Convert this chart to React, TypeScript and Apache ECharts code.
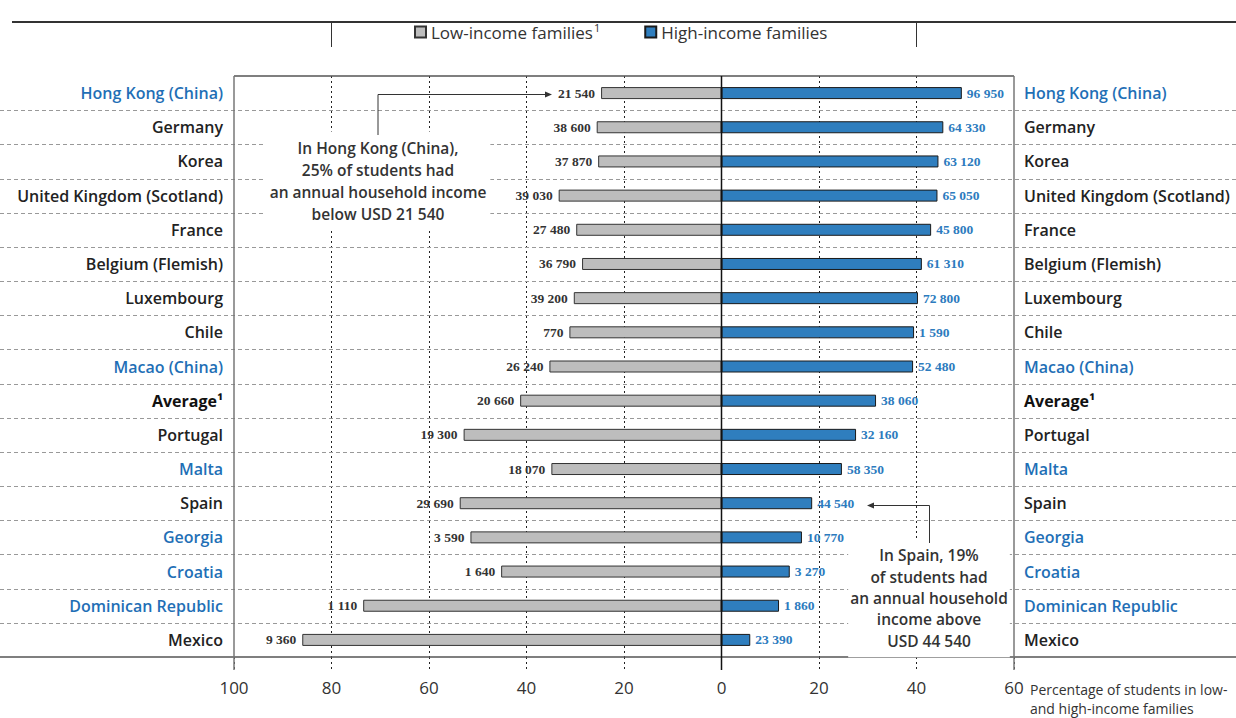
import React, { useEffect, useRef } from "react";
import * as echarts from "echarts";

const countries = [
  "Hong Kong (China)", "Germany", "Korea", "United Kingdom (Scotland)", "France",
  "Belgium (Flemish)", "Luxembourg", "Chile", "Macao (China)", "Average¹",
  "Portugal", "Malta", "Spain", "Georgia", "Croatia", "Dominican Republic", "Mexico",
];
const partners = ["Hong Kong (China)", "Macao (China)", "Malta", "Georgia", "Croatia", "Dominican Republic"];
const lowPct = [24.7, 25.6, 25.3, 33.4, 29.8, 28.6, 30.3, 31.2, 35.3, 41.3, 52.9, 34.9, 53.7, 51.5, 45.2, 73.5, 86.0];
const highPct = [49.3, 45.5, 44.5, 44.3, 43.0, 41.1, 40.3, 39.5, 39.3, 31.7, 27.6, 24.7, 18.6, 16.5, 14.0, 11.8, 5.9];
const lowIncome = ["21 540", "38 600", "37 870", "39 030", "27 480", "36 790", "39 200", "770", "26 240", "20 660", "19 300", "18 070", "29 690", "3 590", "1 640", "1 110", "9 360"];
const highIncome = ["96 950", "64 330", "63 120", "65 050", "45 800", "61 310", "72 800", "1 590", "52 480", "38 060", "32 160", "58 350", "44 540", "10 770", "3 270", "1 860", "23 390"];
const xTicks = [-100, -80, -60, -40, -20, 0, 20, 40, 60];
const legendNames = ["Low-income families", "High-income families"];

const SANS = "'Open Sans', 'Noto Sans', sans-serif";
const SERIF = "'Liberation Serif', 'DejaVu Serif', serif";
const BLUE_TXT = "#1F6FB6";
const GRAY_FILL = "#BDBDBD";
const BLUE_FILL = "#2F7EBE";

export default function App() {
  const ref = useRef<HTMLDivElement>(null);
  useEffect(() => {
    const chart = echarts.init(ref.current!, null, { renderer: "svg" });
    const labelColor = (v: any) => (partners.includes(v) ? BLUE_TXT : "#222");
    const labelFmt = (v: string) => (v === "Average¹" ? `{b|${v}}` : v);
    const ySpec = (pos: "left" | "right", margin: number) => ({
      type: "category",
      data: countries,
      inverse: true,
      position: pos,
      axisLine: { show: false, onZero: false },
      axisTick: { show: false },
      splitLine: { show: false },
      axisLabel: {
        margin,
        fontFamily: SANS,
        fontSize: 16,
        fontWeight: 600,
        color: labelColor,
        formatter: labelFmt,
        rich: { b: { fontFamily: SANS, fontSize: 16, fontWeight: "bold", color: "#111" } },
      },
    });
    chart.setOption({
      animation: false,
      backgroundColor: "#fff",
      grid: { left: 234, right: 1236 - 1014, top: 76, bottom: 718 - 657, containLabel: false },
      legend: {
        data: legendNames,
        left: 409,
        top: 17,
        icon: "rect",
        itemWidth: 11,
        itemHeight: 11,
        itemGap: 44,
        formatter: (n: string) => (n === legendNames[0] ? `${n}{sup|1}` : n),
        textStyle: {
          fontFamily: SANS,
          fontSize: 17,
          color: "#333",
          rich: { sup: { fontFamily: SANS, fontSize: 11, color: "#333", verticalAlign: "top", padding: [0, 0, 9, 1] } },
        },
      },
      xAxis: {
        type: "value",
        min: -100,
        max: 60,
        interval: 20,
        axisLine: { show: false },
        axisTick: { show: true, length: 13, lineStyle: { color: "#222", type: [2, 3] } },
        splitLine: { show: true, showMinLine: false, showMaxLine: false, lineStyle: { color: "#222", type: [2, 3] } },
        axisLabel: {
          margin: 22,
          fontFamily: SANS,
          fontSize: 17,
          color: "#333",
          formatter: (v: number) => (xTicks.includes(v) ? String(Math.abs(v)) : ""),
        },
      },
      yAxis: [ySpec("left", 11), ySpec("right", 10)],
      series: [
        {
          name: legendNames[0],
          type: "bar",
          stack: "x",
          yAxisIndex: 0,
          barWidth: 12,
          data: lowPct.map((v) => -v),
          itemStyle: { color: GRAY_FILL, borderColor: "#333", borderWidth: 1 },
          label: {
            show: true,
            position: "left",
            distance: 6,
            formatter: (p: any) => lowIncome[p.dataIndex],
            fontFamily: SERIF,
            fontWeight: "bold",
            fontSize: 13.5,
            color: "#333",
          },
          z: 3,
        },
        {
          name: legendNames[1],
          type: "bar",
          stack: "x",
          yAxisIndex: 0,
          barWidth: 12,
          data: highPct,
          itemStyle: { color: BLUE_FILL, borderColor: "#1a1a1a", borderWidth: 1 },
          label: {
            show: true,
            position: "right",
            distance: 5,
            formatter: (p: any) => highIncome[p.dataIndex],
            fontFamily: SERIF,
            fontWeight: "bold",
            fontSize: 13.5,
            color: "#2C7BBE",
          },
          z: 3,
        },
      ],
    });

    const yPix = (i: number) => chart.convertToPixel({ yAxisIndex: 0 }, i) as number;
    const xPix = (v: number) => chart.convertToPixel({ xAxisIndex: 0 }, v) as number;
    const yTop = 76;
    const yBottom = 657;
    const graphics: any[] = [];
    for (let i = 0; i < countries.length - 1; i++) {
      const y = Math.round((yPix(i) + yPix(i + 1)) / 2) + 0.5;
      graphics.push({
        type: "line",
        z: 1,
        shape: { x1: 0, y1: y, x2: 1236, y2: y },
        style: { stroke: "#999", lineWidth: 1, lineDash: [4, 3] },
      });
    }
    const x0 = xPix(0);
    const xl = xPix(-100);
    const xr = xPix(60);
    const annoFont = { fontFamily: SANS, fontSize: 15.5, fontWeight: 600, fill: "#333" };
    graphics.push(
      { type: "line", z: 5, shape: { x1: 0, y1: yBottom, x2: 1236, y2: yBottom }, style: { stroke: "#555", lineWidth: 1.3 } },
      { type: "line", z: 5, shape: { x1: xl, y1: yTop, x2: xr, y2: yTop }, style: { stroke: "#555", lineWidth: 1.3 } },
      { type: "line", z: 5, shape: { x1: xl, y1: yTop, x2: xl, y2: 670 }, style: { stroke: "#777", lineWidth: 1.5 } },
      { type: "line", z: 5, shape: { x1: xr, y1: yTop, x2: xr, y2: 670 }, style: { stroke: "#777", lineWidth: 1.5 } },
      { type: "line", z: 6, shape: { x1: x0, y1: yTop, x2: x0, y2: 670 }, style: { stroke: "#111", lineWidth: 1.5 } },
      // title rule and legend frame
      { type: "line", z: 5, shape: { x1: 12, y1: 22, x2: 1236, y2: 22 }, style: { stroke: "#333", lineWidth: 2 } },
      { type: "line", z: 5, shape: { x1: xPix(-80), y1: 22, x2: xPix(-80), y2: 47 }, style: { stroke: "#333", lineWidth: 1 } },
      { type: "line", z: 5, shape: { x1: xPix(40), y1: 22, x2: xPix(40), y2: 47 }, style: { stroke: "#333", lineWidth: 1 } },
      // axis caption
      {
        type: "text",
        z: 5,
        x: 1030,
        y: 680,
        style: {
          text: "Percentage of students in low-\nand high-income families",
          fontFamily: SANS,
          fontSize: 14,
          lineHeight: 19,
          fill: "#333",
        },
      },
      // Hong Kong annotation
      {
        type: "text",
        z: 10,
        x: 378,
        y: 181,
        style: {
          text: "In Hong Kong (China),\n25% of students had\nan annual household income\nbelow USD 21 540",
          ...annoFont,
          lineHeight: 21.7,
          align: "center",
          verticalAlign: "middle",
          backgroundColor: "#fff",
          padding: [6, 4],
        },
      },
      { type: "polyline", z: 11, shape: { points: [[378, 135], [378, 94.5], [546, 94.5]] }, style: { stroke: "#333", lineWidth: 1, fill: null } },
      { type: "polygon", z: 11, shape: { points: [[552, 94.5], [545, 91.5], [545, 97.5]] }, style: { fill: "#333" } },
      // Spain annotation
      {
        type: "text",
        z: 10,
        x: 929,
        y: 598,
        style: {
          text: "In Spain, 19%\nof students had\nan annual household\nincome above\nUSD 44 540",
          ...annoFont,
          lineHeight: 21.3,
          align: "center",
          verticalAlign: "middle",
          backgroundColor: "#fff",
          padding: [6, 2],
        },
      },
      { type: "polyline", z: 11, shape: { points: [[929.5, 543], [929.5, 505.5], [873, 505.5]] }, style: { stroke: "#333", lineWidth: 1, fill: null } },
      { type: "polygon", z: 11, shape: { points: [[867, 505.5], [874, 502.5], [874, 508.5]] }, style: { fill: "#333" } }
    );
    chart.setOption({ graphic: graphics });
    return () => chart.dispose();
  }, []);
  return (
    <div
      ref={ref}
      style={{ position: "absolute", left: 0, top: 0, width: 1236, height: 718, background: "#fff" }}
    />
  );
}
